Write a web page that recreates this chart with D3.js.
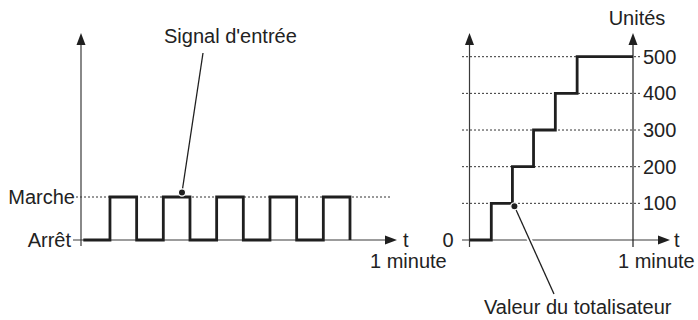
<!DOCTYPE html>
<html><head><meta charset="utf-8">
<script src="https://cdn.jsdelivr.net/npm/d3@7"></script>
<style>
html,body{margin:0;padding:0;background:#fff;}
svg text{font-family:"Liberation Sans",Arial,sans-serif;font-size:20px;fill:#222;}
</style></head>
<body><svg id="c" width="698" height="320"></svg>
<script>
// ---- data ----
const leftStates = ["Arrêt", "Marche"];          // y categories (0,1)
const leftSignalT = [0,1,2,3,4,5,6,7,8,9,10];     // switching instants (half-period units)
const leftSignalV = [0,1,0,1,0,1,0,1,0,1,0];      // state after each instant
const rightT = [0, 8, 15.75, 23.5, 31.5, 39.5, 60]; // seconds
const rightV = [0, 100, 200, 300, 400, 500, 500];   // totaliser units
const rightTicks = [0, 100, 200, 300, 400, 500];
const labels = {signal:"Signal d'entrée", total:"Valeur du totalisateur", units:"Unités", t:"t", minute:"1 minute"};

const svg = d3.select("#c");
const ink = "#1f1f1f", axisCol = "#3a3a3a";

function arrowUp(x, y){ svg.append("path").attr("d",`M${x},${y} L${x-4.5},${y+12} L${x+4.5},${y+12} Z`).attr("fill",ink); }
function arrowRight(x, y){ svg.append("path").attr("d",`M${x},${y} L${x-12},${y-4.5} L${x-12},${y+4.5} Z`).attr("fill",ink); }

// ---------- LEFT CHART ----------
const xL = d3.scaleLinear().domain([0, 11.5]).range([83.3, 390]);
const yL = d3.scaleLinear().domain([0, 1]).range([240, 197]);
const axL = 81;

svg.append("line").attr("x1",76).attr("x2",xL(11.5)).attr("y1",yL(1)).attr("y2",yL(1))
  .attr("stroke","#333").attr("stroke-width",1).attr("stroke-dasharray","2,2");
svg.append("line").attr("x1",73).attr("x2",390).attr("y1",yL(0)).attr("y2",yL(0)).attr("stroke",axisCol).attr("stroke-width",1.2);
arrowRight(397, yL(0));
svg.append("line").attr("x1",axL).attr("x2",axL).attr("y1",246).attr("y2",40).attr("stroke",axisCol).attr("stroke-width",1.2);
arrowUp(axL, 33);
const gL = svg.append("g").attr("transform",`translate(${axL},0)`)
  .call(d3.axisLeft(yL).tickValues([0,1]).tickSize(0).tickPadding(6).tickFormat(d=>leftStates[d]));
gL.select(".domain").remove();
gL.selectAll("text").style("font-size","20px").style("font-family","Liberation Sans, Arial, sans-serif").attr("fill","#222")
  .attr("dx", d => d===0 ? -4 : 0);
const lineL = d3.line().x((d,i)=>xL(leftSignalT[i])).y(d=>yL(d)).curve(d3.curveStepAfter);
svg.append("path").datum(leftSignalV).attr("d",lineL).attr("fill","none").attr("stroke",ink).attr("stroke-width",2.8).attr("stroke-linejoin","miter");
svg.append("text").attr("x",403).attr("y",yL(0)+7).text(labels.t);
svg.append("text").attr("x",370).attr("y",268).text(labels.minute);
const dotL = [xL(3.7), yL(1)-4.5];
svg.append("line").attr("x1",203).attr("y1",53).attr("x2",dotL[0]).attr("y2",dotL[1]).attr("stroke","#fff").attr("stroke-width",4);
svg.append("line").attr("x1",203).attr("y1",53).attr("x2",dotL[0]).attr("y2",dotL[1]).attr("stroke",ink).attr("stroke-width",1.3);
svg.append("circle").attr("cx",dotL[0]).attr("cy",dotL[1]).attr("r",3.6).attr("fill",ink).attr("stroke","#fff").attr("stroke-width",1.2);
svg.append("text").attr("x",164).attr("y",43).text(labels.signal);

// ---------- RIGHT CHART ----------
const xR = d3.scaleLinear().domain([0, 60]).range([469.5, 633]);
const yR = d3.scaleLinear().domain([0, 500]).range([240, 56.7]);

svg.append("g").selectAll("line").data(rightTicks.filter(d=>d>0)).join("line")
  .attr("x1",462).attr("x2",640).attr("y1",d=>yR(d)).attr("y2",d=>yR(d))
  .attr("stroke","#333").attr("stroke-width",1).attr("stroke-dasharray","2,2");
svg.append("line").attr("x1",462).attr("x2",663).attr("y1",yR(0)).attr("y2",yR(0)).attr("stroke",axisCol).attr("stroke-width",1.2);
arrowRight(670, yR(0));
svg.append("line").attr("x1",xR(0)).attr("x2",xR(0)).attr("y1",247).attr("y2",40).attr("stroke",axisCol).attr("stroke-width",1.2);
arrowUp(xR(0), 33);
svg.append("line").attr("x1",xR(60)).attr("x2",xR(60)).attr("y1",247).attr("y2",40).attr("stroke",ink).attr("stroke-width",1.2);
arrowUp(xR(60), 33);
const gR = svg.append("g").attr("transform",`translate(${xR(60)},0)`)
  .call(d3.axisRight(yR).tickValues(rightTicks.filter(d=>d>0)).tickSize(0).tickPadding(10));
gR.select(".domain").remove();
gR.selectAll("text").style("font-size","20px").style("font-family","Liberation Sans, Arial, sans-serif").attr("fill","#222");
const g0 = svg.append("g").attr("transform",`translate(${xR(0)},0)`)
  .call(d3.axisLeft(yR).tickValues([0]).tickSize(0).tickPadding(16));
g0.select(".domain").remove();
g0.selectAll("text").style("font-size","20px").style("font-family","Liberation Sans, Arial, sans-serif").attr("fill","#222");
const lineR = d3.line().x((d,i)=>xR(rightT[i])).y(d=>yR(d)).curve(d3.curveStepAfter);
svg.append("path").datum(rightV).attr("d",lineR).attr("fill","none").attr("stroke",ink).attr("stroke-width",2.8);
svg.append("text").attr("x",674).attr("y",yR(0)+7).text(labels.t);
svg.append("text").attr("x",618).attr("y",268).text(labels.minute);
svg.append("text").attr("x",637).attr("y",25).attr("text-anchor","middle").text(labels.units);
const dotR = [xR(15.75)+2, yR(100)+3];
svg.append("line").attr("x1",dotR[0]).attr("y1",dotR[1]).attr("x2",554).attr("y2",294).attr("stroke","#fff").attr("stroke-width",5);
svg.append("line").attr("x1",dotR[0]).attr("y1",dotR[1]).attr("x2",554).attr("y2",294).attr("stroke",ink).attr("stroke-width",1.3);
svg.append("circle").attr("cx",dotR[0]).attr("cy",dotR[1]).attr("r",3.6).attr("fill",ink).attr("stroke","#fff").attr("stroke-width",1.2);
svg.append("text").attr("x",484).attr("y",314).text(labels.total);
</script></body></html>
